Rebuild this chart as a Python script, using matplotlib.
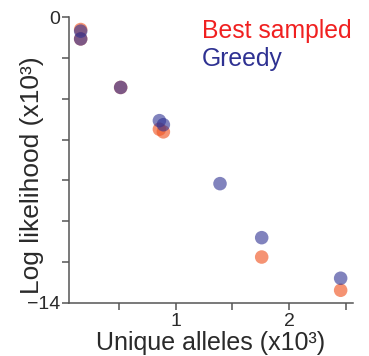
import matplotlib
matplotlib.use("Agg")
import matplotlib.pyplot as plt

plt.rcParams['font.family'] = ['Liberation Sans', 'DejaVu Sans']

# Data (x in thousands of unique alleles, y log likelihood in thousands)
best_x = [0.161, 0.161, 0.514, 0.856, 0.891, 1.759, 2.456]
best_y = [-0.60, -1.06, -3.44, -5.49, -5.62, -11.76, -13.39]
greedy_x = [0.161, 0.161, 0.514, 0.856, 0.891, 1.391, 1.759, 2.456]
greedy_y = [-0.68, -1.06, -3.44, -5.07, -5.27, -8.16, -10.81, -12.80]

xticks = [0.5, 1, 1.5, 2, 2.5]
xticklabels = ["", "1", "", "2", ""]
yticks = [0, -2, -4, -6, -8, -10, -12, -14]
yticklabels = ["0", "", "", "", "", "", "", "\u221214"]

W, H = 369, 356
fig = plt.figure(figsize=(W / 100, H / 100), dpi=100)
ax = fig.add_axes([69 / W, 1 - 302.7 / H, (353 - 69) / W, (302.7 - 17.3) / H])

ax.scatter(best_x, best_y, s=95, color='#F05A28', alpha=0.65, edgecolors='none', zorder=2)
ax.scatter(greedy_x, greedy_y, s=95, color='#2E3192', alpha=0.6, edgecolors='none', zorder=3)

ax.set_xlim(0.058, 2.565)
ax.set_ylim(-14, 0)
ax.set_xticks(xticks)
ax.set_xticklabels(xticklabels)
ax.set_yticks(yticks)
ax.set_yticklabels(yticklabels)

for s in ['top', 'right']:
    ax.spines[s].set_visible(False)
for s in ['left', 'bottom']:
    ax.spines[s].set_color('#555555')
    ax.spines[s].set_linewidth(1.1)
ax.tick_params(direction='out', length=5, width=1.1, color='#555555',
               labelsize=14, labelcolor='#2a2a2a')
ax.tick_params(axis='x', pad=2.5)
ax.tick_params(axis='y', pad=1.5)

fig.text(211 / W, 1 - 350 / H, "Unique alleles (x10\u00b3)", ha='center', va='baseline',
         fontsize=18, color='#2a2a2a')
fig.text(32 / W, 1 - 175 / H, "Log likelihood (x10\u00b3)", ha='center', va='center',
         rotation=90, fontsize=19, color='#2a2a2a')

fig.text(202 / W, 1 - 38 / H, "Best sampled", ha='left', va='baseline',
         fontsize=17.8, color='#F02020')
fig.text(202 / W, 1 - 66 / H, "Greedy", ha='left', va='baseline',
         fontsize=17.8, color='#2E3192')

fig.savefig("out.png", dpi=100)
